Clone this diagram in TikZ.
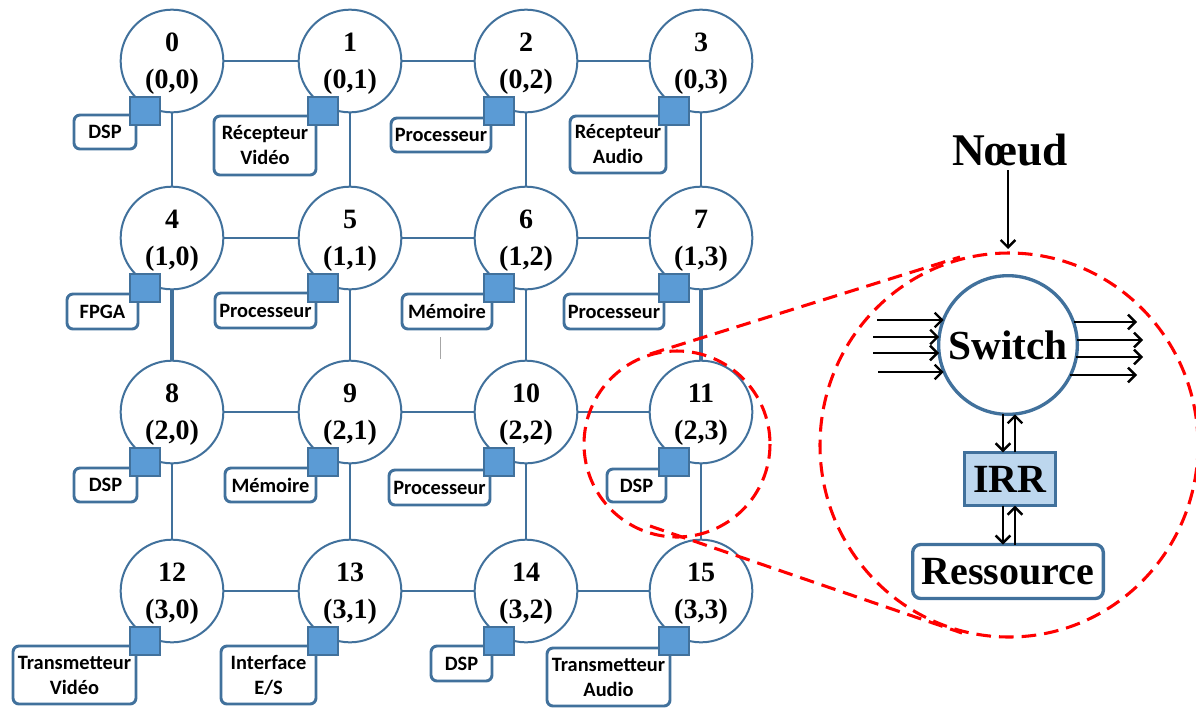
\documentclass[tikz,border=0pt]{standalone}
\usepackage{fontspec}
\setmainfont{Liberation Serif}
\newfontfamily\labelfont{Carlito}
\usetikzlibrary{arrows.meta,calc}
\definecolor{linkblue}{RGB}{65,113,156}
\definecolor{portblue}{RGB}{91,155,213}
\definecolor{irrblue}{RGB}{189,215,238}
\definecolor{zoomred}{RGB}{255,0,0}
\begin{document}
\begin{tikzpicture}[x=0.75pt,y=-0.75pt,
  router/.style={circle,draw=linkblue,line width=1.5pt,fill=white,minimum size=77pt,
    inner sep=0pt,align=center,font=\bfseries\fontsize{21}{27.75}\selectfont},
  port/.style={rectangle,draw=linkblue,line width=1.1pt,fill=portblue,
    minimum width=22.5pt,minimum height=21pt,inner sep=0pt},
  res/.style={rectangle,rounded corners=4.5pt,draw=linkblue,line width=2.2pt,fill=white,
    inner sep=0pt,align=center,font=\labelfont\bfseries\fontsize{15.3}{18.75}\selectfont},
  link/.style={draw=linkblue,line width=1.5pt},
  midlink/.style={draw=linkblue,line width=2.2pt},
  thicklink/.style={draw=linkblue,line width=3pt},
  zoomline/.style={draw=zoomred,line width=2.3pt,dash pattern=on 11pt off 6pt},
  flow/.style={draw=black,line width=1.8pt,-{Straight Barb[length=5.5pt,width=11pt,line width=1.8pt]}},
  title/.style={font=\bfseries\fontsize{#1}{#1}\selectfont,inner sep=3pt},
]
\useasboundingbox (0,0) rectangle (1196,708);

% ---- 4x4 mesh of routers ----
\foreach \i/\r/\c/\x/\y in {
  0/0/0/172/61, 1/0/1/350/61, 2/0/2/526/61, 3/0/3/701/61,
  4/1/0/172/238, 5/1/1/350/238, 6/1/2/526/238, 7/1/3/701/238,
  8/2/0/172/412, 9/2/1/350/412, 10/2/2/526/412, 11/2/3/701/412,
  12/3/0/172/591, 13/3/1/350/591, 14/3/2/526/591, 15/3/3/701/591}
  \node[router] (n\i) at (\x,\y) {\rule{0pt}{18pt}\i\\(\r,\c)};

% horizontal links
\draw[link] (n0) -- (n1);   \draw[midlink] (n1) -- (n2);  \draw[link] (n2) -- (n3);
\draw[link] (n4) -- (n5);   \draw[link] (n5) -- (n6);     \draw[link] (n6) -- (n7);
\draw[link] (n8) -- (n9);   \draw[link] (n9) -- (n10);    \draw[link] (n10) -- (n11);
\draw[link] (n12) -- (n13); \draw[midlink] (n13) -- (n14); \draw[link] (n14) -- (n15);
% vertical links
\draw[link] (n0) -- (n4);   \draw[thicklink] (n4) -- (n8);  \draw[link] (n8) -- (n12);
\draw[link] (n1) -- (n5);   \draw[link] (n5) -- (n9);       \draw[link] (n9) -- (n13);
\draw[link] (n2) -- (n6);   \draw[link] (n6) -- (n10);      \draw[link] (n10) -- (n14);
\draw[link] (n3) -- (n7);   \draw[thicklink] (n7) -- (n11); \draw[link] (n11) -- (n15);

% ---- resources attached to each router ----
\foreach \i/\x/\y/\w/\h/\t in {
  0/105/132/62/34/DSP,
  1/265/145.5/102/59/{Récepteur\\Vidéo},
  2/441/135/100/34/Processeur,
  3/618/144.5/96/57/{Récepteur\\Audio},
  4/102.5/311.5/71/35/FPGA,
  5/265.5/310.5/101/35/Processeur,
  6/447/311.5/90/35/Mémoire,
  7/614/311.5/100/35/Processeur,
  8/105.5/485/63/34/DSP,
  9/270.5/485/91/34/Mémoire,
  10/439.5/487.5/101/35/Processeur,
  11/636.5/485.5/59/33/DSP,
  12/74.5/675/123/58/{Transmetteur\\Vidéo},
  13/268.5/675/95/58/{Interface\\E/S},
  14/461.5/663.5/61/35/DSP,
  15/608.5/677/123/58/{Transmetteur\\Audio}}
  \node[res,minimum width=\w*0.75pt,minimum height=\h*0.75pt] (r\i) at (\x,\y) {\t};

% network interface ports
\foreach \i in {0,...,15}
  \node[port] (p\i) at ($(n\i)+(-27,50)$) {};

% stray mark
\draw[gray!70,line width=0.6pt] (440,337) -- (440,359);

% ---- magnified router ----
\node[title=34] (noeud) at (1010,150) {Nœud};
\node[circle,draw=linkblue,line width=2.5pt,fill=white,minimum size=104pt,inner sep=0pt,outer sep=0pt,
  font=\bfseries\fontsize{31}{31}\selectfont] (sw) at (1008,345) {Switch};
\node[rectangle,draw=linkblue,line width=2.5pt,fill=irrblue,minimum width=68pt,minimum height=40pt,
  inner sep=0pt,outer sep=0pt,font=\bfseries\fontsize{30}{30}\selectfont] (irr) at (1010,479) {IRR};
\node[rectangle,rounded corners=6pt,draw=linkblue,line width=2.5pt,fill=white,minimum width=143pt,
  minimum height=40.5pt,inner sep=0pt,outer sep=0pt,font=\bfseries\fontsize{30}{30}\selectfont]
  (ress) at (1008,571.5) {Ressource};

\coordinate (ntip) at (1008,249);
\draw[flow] (noeud.south -| ntip) -- (ntip);

% incoming and outgoing flows of the switch
\coordinate (in1) at (877,320);
\coordinate (in2) at (873,337);
\coordinate (in3) at (873,353);
\coordinate (in4) at (878,372);
\draw[flow] (in1) -- (in1 -| sw.158.9);
\draw[flow] (in2) -- (in2 -| sw.173.4);
\draw[flow] (in3) -- (in3 -| sw.186.6);
\draw[flow] (in4) -- (in4 -| sw.202.9);
\coordinate (out1) at (1137,322);
\coordinate (out2) at (1143,340);
\coordinate (out3) at (1143,357);
\coordinate (out4) at (1137,375);
\draw[flow] (out1 -| sw.19.4) -- (out1);
\draw[flow] (out2 -| sw.4.1) -- (out2);
\draw[flow] (out3 -| sw.350) -- (out3);
\draw[flow] (out4 -| sw.334.4) -- (out4);

% switch <-> IRR <-> resource
\coordinate (dn) at (1003,0);
\coordinate (up) at (1015,0);
\draw[flow] (sw.south -| dn) -- (irr.north -| dn);
\draw[flow] (irr.north -| up) -- (sw.south -| up);
\draw[flow] (irr.south -| dn) -- (ress.north -| dn);
\draw[flow] (ress.north -| up) -- (irr.south -| up);

% ---- magnifier outline ----
\draw[zoomline] (677,444) circle[radius=93];
\draw[zoomline] (1009,445) ellipse[x radius=189,y radius=192];
\draw[zoomline] (650,354) -- (960,257);
\draw[zoomline] (650,526) -- (962,633);
\end{tikzpicture}
\end{document}
